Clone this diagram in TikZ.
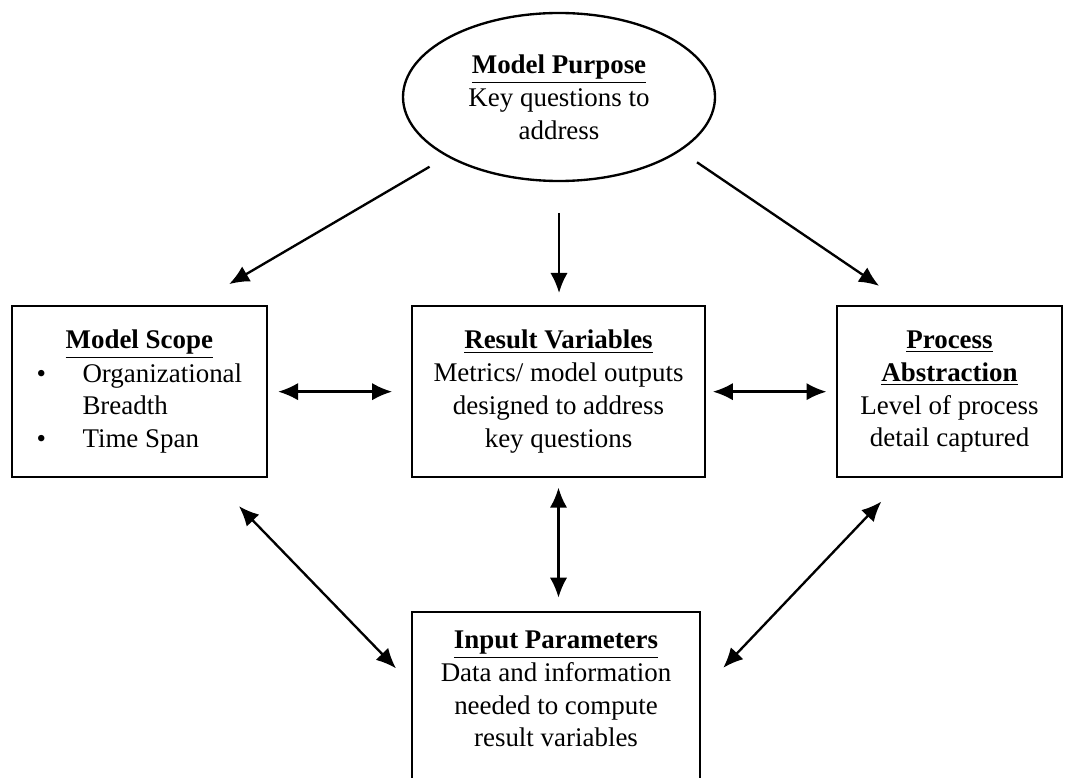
\documentclass[tikz,border=0pt]{standalone}
\usepackage{fontspec}
\setmainfont{Liberation Serif}
\usetikzlibrary{shapes.geometric, arrows.meta, calc}

\begin{document}
\begin{tikzpicture}[>={Latex[length=3mm, width=2.6mm]}, line width=1pt,
    box/.style={draw, rectangle, align=center, minimum height=2.565cm,
        font=\fontsize{11.5}{14}\selectfont},
    purpose/.style={draw, ellipse, align=center, inner sep=0pt,
        minimum width=4.68cm, minimum height=2.52cm,
        font=\fontsize{11.5}{14}\selectfont}]
        % the page
        \useasboundingbox (0,0) rectangle (15.975,11.655);

        % the ellipse on top
        \node[purpose] (purpose) at (8.385,10.2)
            {\underline{\textbf{Model Purpose}}\\ Key questions to\\ address};

        % the three boxes in the middle row
        \node[box, minimum width=3.825cm] (scope) at (2.09,5.78) {%
            \begin{tabular}{@{}p{0.69cm}@{}l@{}}
            \multicolumn{2}{c}{\underline{\textbf{Model Scope}}}\\
            \textbullet & Organizational\\
                        & Breadth\\
            \textbullet & Time Span
            \end{tabular}};
        \node[box, minimum width=4.395cm] (results) at (8.3775,5.78)
            {\underline{\textbf{Result Variables}}\\ Metrics/ model outputs\\
             designed to address\\ key questions};
        \node[box, minimum width=3.375cm] (abstraction) at (14.2425,5.78)
            {\underline{\textbf{Process}}\\ \underline{\textbf{Abstraction}}\\
             Level of process\\ detail captured};

        % the box at the bottom, running off the page
        \node[box, align=flush center, anchor=north, minimum height=0pt, text width=4.32cm,
            inner xsep=0pt, inner ysep=8pt] (inputs) at (8.34,2.49)
            {\underline{\textbf{Input Parameters}}\\ Data and information\\
             needed to compute\\ result variables\\ \rule{0pt}{1.2cm}};

        % arrows from the ellipse
        \draw[->, shorten <=0.3cm, shorten >=0.62cm] (purpose.208) -- (scope.58);
        \draw[->, shorten <=0.46cm, shorten >=0.18cm] (purpose.south) -- (purpose.south |- results.north);
        \draw[->, shorten <=0.3cm, shorten >=0.51cm] (purpose.336) -- (abstraction.116);

        % two-way arrows in the middle row
        \draw[<->, shorten <=0.15cm, shorten >=0.28cm] (scope.east) -- (results.west);
        \draw[<->, shorten <=0.1cm, shorten >=0.14cm] (results.east) -- (abstraction.west);

        % two-way arrows down to the inputs
        \draw[<->, shorten <=0.14cm, shorten >=0.2cm] (results.south) -- (results.south |- inputs.north);
        \draw[<->, shorten <=0.58cm, shorten >=0.32cm] (scope.310) -- ($(inputs.north west)+(0,-1.09)$);
        \draw[<->, shorten <=0.48cm, shorten >=0.48cm] (abstraction.242) -- ($(inputs.north east)+(0,-1.2)$);
\end{tikzpicture}
\end{document}
